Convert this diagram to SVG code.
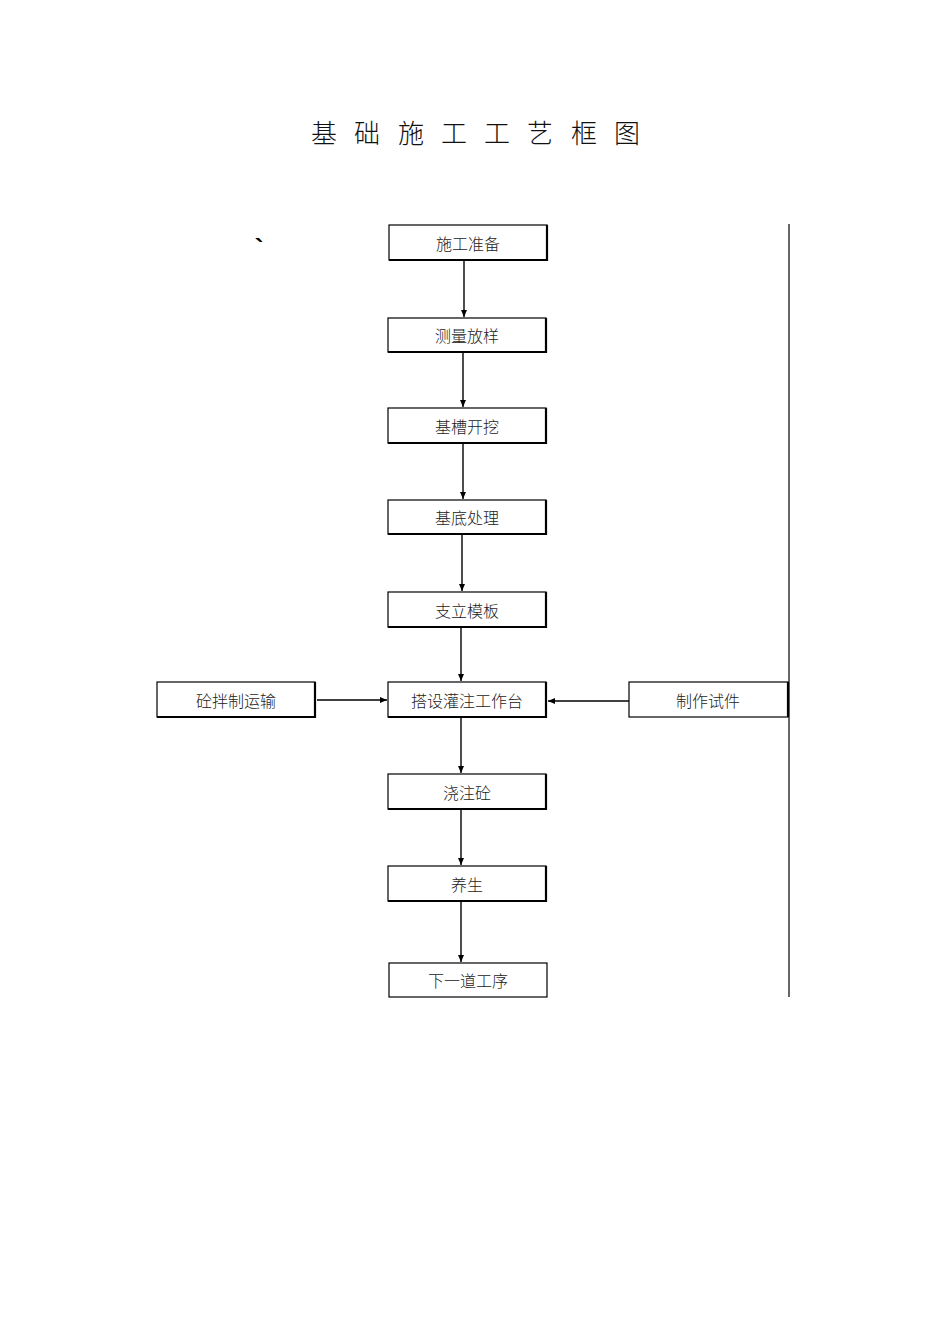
<svg xmlns="http://www.w3.org/2000/svg" width="950" height="1344" viewBox="0 0 950 1344">
<defs>
<style>
.box{fill:#fff;stroke:#000;stroke-width:1.2}
.sh{fill:none;stroke:#000;stroke-width:2.2}
.t{font-family:"Noto Sans CJK SC","Liberation Serif",serif;font-size:16px;font-weight:300;fill:#222;text-anchor:middle;dominant-baseline:central}
.ttl{font-family:"Noto Sans CJK SC","Liberation Serif",serif;font-size:26px;font-weight:300;fill:#111;text-anchor:middle;dominant-baseline:central}
.c{stroke:#000;stroke-width:1.4;fill:none}
</style>
<marker id="ah" markerWidth="8" markerHeight="8" refX="7" refY="4" orient="auto" markerUnits="userSpaceOnUse">
<path d="M0,1 L7,4 L0,7 z" fill="#000"/>
</marker>
</defs>
<rect width="950" height="1344" fill="#fff"/>
<g id="title">
<text class="ttl" x="324" y="131">基</text>
<text class="ttl" x="367" y="131">础</text>
<text class="ttl" x="411" y="131">施</text>
<text class="ttl" x="454" y="131">工</text>
<text class="ttl" x="497" y="131">工</text>
<text class="ttl" x="540" y="131">艺</text>
<text class="ttl" x="584" y="131">框</text>
<text class="ttl" x="627" y="131">图</text>
</g>
<text x="259" y="257" font-family="Liberation Sans, sans-serif" font-size="26" font-weight="bold" text-anchor="middle" fill="#000">`</text>
<line x1="789" y1="224" x2="789" y2="997" stroke="#000" stroke-width="1.2"/>
<g id="connectors">
<line class="c" x1="464" y1="261" x2="464" y2="317" marker-end="url(#ah)"/>
<line class="c" x1="463" y1="353" x2="463" y2="407" marker-end="url(#ah)"/>
<line class="c" x1="463" y1="444" x2="463" y2="499" marker-end="url(#ah)"/>
<line class="c" x1="462" y1="535" x2="462" y2="591" marker-end="url(#ah)"/>
<line class="c" x1="461" y1="628" x2="461" y2="681" marker-end="url(#ah)"/>
<line class="c" x1="461" y1="718" x2="461" y2="773" marker-end="url(#ah)"/>
<line class="c" x1="461" y1="810" x2="461" y2="865" marker-end="url(#ah)"/>
<line class="c" x1="461" y1="902" x2="461" y2="962" marker-end="url(#ah)"/>
<line class="c" x1="317" y1="700" x2="387" y2="700" marker-end="url(#ah)"/>
<line class="c" x1="629" y1="701" x2="548" y2="701" marker-end="url(#ah)"/>
</g>
<g id="n1"><rect class="box" x="389" y="225" width="158" height="35"/><path class="sh" d="M547,225 V260 H389"/><text class="t" x="468" y="243">施工准备</text></g>
<g id="n2"><rect class="box" x="388" y="318" width="158" height="34"/><path class="sh" d="M546,318 V352 H388"/><text class="t" x="467" y="335">测量放样</text></g>
<g id="n3"><rect class="box" x="388" y="408" width="158" height="35"/><path class="sh" d="M546,408 V443 H388"/><text class="t" x="467" y="426">基槽开挖</text></g>
<g id="n4"><rect class="box" x="388" y="500" width="158" height="34"/><path class="sh" d="M546,500 V534 H388"/><text class="t" x="467" y="517">基底处理</text></g>
<g id="n5"><rect class="box" x="388" y="592" width="158" height="35"/><path class="sh" d="M546,592 V627 H388"/><text class="t" x="467" y="610">支立模板</text></g>
<g id="n6"><rect class="box" x="388" y="682" width="158" height="35"/><path class="sh" d="M546,682 V717 H388"/><text class="t" x="467" y="700">搭设灌注工作台</text></g>
<g id="n7"><rect class="box" x="388" y="774" width="158" height="35"/><path class="sh" d="M546,774 V809 H388"/><text class="t" x="467" y="792">浇注砼</text></g>
<g id="n8"><rect class="box" x="388" y="866" width="158" height="35"/><path class="sh" d="M546,866 V901 H388"/><text class="t" x="467" y="884">养生</text></g>
<g id="n9"><rect class="box" x="389" y="963" width="158" height="34"/><text class="t" x="468" y="980">下一道工序</text></g>
<g id="n10"><rect class="box" x="157" y="682" width="158" height="35"/><path class="sh" d="M315,682 V717 H157"/><text class="t" x="236" y="700">砼拌制运输</text></g>
<g id="n11"><rect class="box" x="629" y="682" width="159" height="35"/><path class="sh" d="M788,682 V717"/><text class="t" x="708" y="700">制作试件</text></g>
</svg>
